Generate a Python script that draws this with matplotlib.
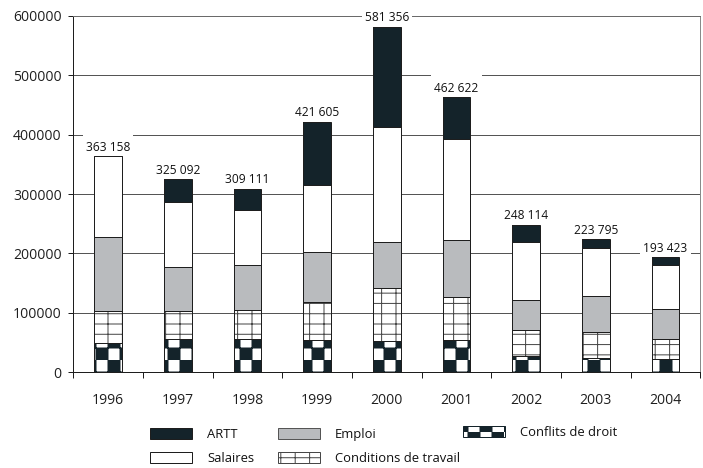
import warnings

import numpy as np
import matplotlib
matplotlib.use("Agg")
import matplotlib.pyplot as plt
import matplotlib.hatch as mhatch
from matplotlib.path import Path
from matplotlib.patches import Patch, Rectangle

warnings.filterwarnings("ignore")

plt.rcParams["font.family"] = ["Open Sans", "DejaVu Sans"]
plt.rcParams["text.color"] = "#111111"
plt.rcParams["xtick.color"] = "#1e1e1e"
plt.rcParams["ytick.color"] = "#1e1e1e"
plt.rcParams["hatch.linewidth"] = 1.0

# ---- data -----------------------------------------------------------------
years = ["1996", "1997", "1998", "1999", "2000", "2001", "2002", "2003", "2004"]
conflits = [50000, 56000, 56000, 54000, 53000, 55000, 27000, 23500, 22000]
conditions = [53500, 47500, 49000, 65000, 88000, 71000, 44000, 43500, 34500]
emploi = [124500, 74000, 76000, 83000, 79000, 96000, 50500, 61000, 49500]
salaires = [135158, 109500, 92000, 113000, 193000, 170000, 98500, 81000, 74000]
artt = [0, 38092, 36111, 106605, 168356, 70622, 28114, 14795, 13423]
y_ticks = [0, 100000, 200000, 300000, 400000, 500000, 600000]
y_tick_labels = ["0", "100000", "200000", "300000", "400000", "500000", "600000"]

DARK = "#14232a"
GREY = "#b9bbbe"
OUTLINE = "#1e1e1e"
GRIDHATCH = "#474747"


# ---- custom fill patterns --------------------------------------------------
class CheckerHatch(mhatch.HatchPatternBase):
    """Filled checkerboard squares, selected with 'c' in the hatch string."""

    def __init__(self, hatch, density):
        self.cells = 6 * hatch.count("c")
        self.num_vertices = 5 * (self.cells * self.cells // 2)

    def set_vertices_and_codes(self, vertices, codes):
        step = 1.0 / self.cells
        i = 0
        for r in range(self.cells):
            for c in range(self.cells):
                if (r + c) % 2:
                    continue
                x0, y0 = c * step, r * step
                vertices[i:i + 5] = [(x0, y0), (x0 + step, y0),
                                     (x0 + step, y0 + step), (x0, y0 + step),
                                     (x0, y0)]
                codes[i:i + 5] = [Path.MOVETO, Path.LINETO, Path.LINETO,
                                  Path.LINETO, Path.CLOSEPOLY]
                i += 5


class GridHatch(mhatch.HatchPatternBase):
    """Rectangular grid (wider columns than rows), selected with 'g'."""

    def __init__(self, hatch, density):
        k = hatch.count("g")
        self.n_vert = 5 * k
        self.n_horiz = 7 * k
        self.num_vertices = 2 * (self.n_vert + self.n_horiz)

    def set_vertices_and_codes(self, vertices, codes):
        nv, nh = self.n_vert, self.n_horiz
        xs = (np.arange(nv) + 0.5) / nv
        ys = (np.arange(nh) + 0.5) / nh
        vertices[0:2 * nv:2] = np.column_stack([xs, np.zeros(nv)])
        vertices[1:2 * nv:2] = np.column_stack([xs, np.ones(nv)])
        vertices[2 * nv::2] = np.column_stack([np.zeros(nh), ys])
        vertices[2 * nv + 1::2] = np.column_stack([np.ones(nh), ys])
        codes[0::2] = Path.MOVETO
        codes[1::2] = Path.LINETO


mhatch._hatch_types.extend([CheckerHatch, GridHatch])

# ---- figure ----------------------------------------------------------------
W, H, DPI = 703, 468, 72
fig = plt.figure(figsize=(W / DPI, H / DPI), dpi=DPI)
ax = fig.add_axes([73.3 / W, 1 - 372.3 / H, 627 / W, 356.6 / H])

x = np.arange(len(years))
ax.set_xlim(-0.5, len(years) - 0.5)
ax.set_ylim(y_ticks[0], y_ticks[-1])

layers = [
    (conflits, "white", DARK, "c"),
    (conditions, "white", GRIDHATCH, "g"),
    (emploi, GREY, OUTLINE, None),
    (salaires, "white", OUTLINE, None),
    (artt, DARK, OUTLINE, None),
]

bottom = np.zeros(len(years))
for vals, face, hcol, hatch in layers:
    vals = np.asarray(vals, dtype=float)
    ax.bar(x, vals, width=0.4, bottom=bottom, color=face, edgecolor=hcol,
           linewidth=0, hatch=hatch, zorder=4)
    ax.bar(x, vals, width=0.4, bottom=bottom, fill=False, edgecolor=OUTLINE,
           linewidth=1, zorder=5)
    bottom += vals

# totals above each column; a white box behind each one breaks the grid lines
y_per_px = (y_ticks[-1] - y_ticks[0]) / (ax.get_position().height * H)
for xi, total in zip(x, bottom):
    label = f"{int(round(total)):,}".replace(",", " ")
    ax.add_patch(Rectangle((xi - 0.36, total + 3 * y_per_px), 0.72,
                           23 * y_per_px, facecolor="white", edgecolor="none",
                           zorder=3, clip_on=False))
    ax.annotate(label, xy=(xi, total), xytext=(0, 5.4),
                textcoords="offset points", ha="center", va="baseline",
                fontsize=12, zorder=3.5, annotation_clip=False)

# axes styling
ax.set_yticks(y_ticks)
ax.set_yticklabels(y_tick_labels)
ax.tick_params(axis="y", direction="out", length=5.5, width=1, pad=6,
               labelsize=14)
ax.set_xticks(x)
ax.set_xticklabels(years)
ax.set_xticks(np.arange(len(years) + 1) - 0.5, minor=True)
ax.tick_params(axis="x", which="major", length=0, pad=21, labelsize=14)
ax.tick_params(axis="x", which="minor", direction="out", length=6, width=1)

ax.yaxis.grid(True, color="#555555", linewidth=1)
ax.set_axisbelow(True)
ax.spines["left"].set_color(OUTLINE)
ax.spines["bottom"].set_color(OUTLINE)
ax.spines["top"].set_color("#6a6a6a")
ax.spines["right"].set_color("#8a8a8a")
for s in ax.spines.values():
    s.set_linewidth(1)

# legend, laid out in three columns
h_artt = Patch(facecolor=DARK, edgecolor=OUTLINE, linewidth=1)
h_sal = Patch(facecolor="white", edgecolor=OUTLINE, linewidth=1)
h_emp = Patch(facecolor=GREY, edgecolor="#555555", linewidth=1)
h_cond = Patch(facecolor="white", edgecolor=GRIDHATCH, hatch="g", linewidth=1)
h_conf = Patch(facecolor="white", edgecolor=DARK, hatch="c", linewidth=1)

common = dict(frameon=False, loc="upper left", borderpad=0, borderaxespad=0,
              handlelength=3.23, handleheight=0.92, handletextpad=1.15,
              labelspacing=0.85, fontsize=13)
fig.legend([h_artt, h_sal], ["ARTT", "Salaires"],
           bbox_to_anchor=(150 / W, 1 - 428 / H), **common)
fig.legend([h_emp, h_cond], ["Emploi", "Conditions de travail"],
           bbox_to_anchor=(278 / W, 1 - 428 / H), **common)
fig.legend([h_conf], ["Conflits de droit"],
           bbox_to_anchor=(463 / W, 1 - 426 / H), **common)

fig.savefig("out.png", dpi=DPI)
